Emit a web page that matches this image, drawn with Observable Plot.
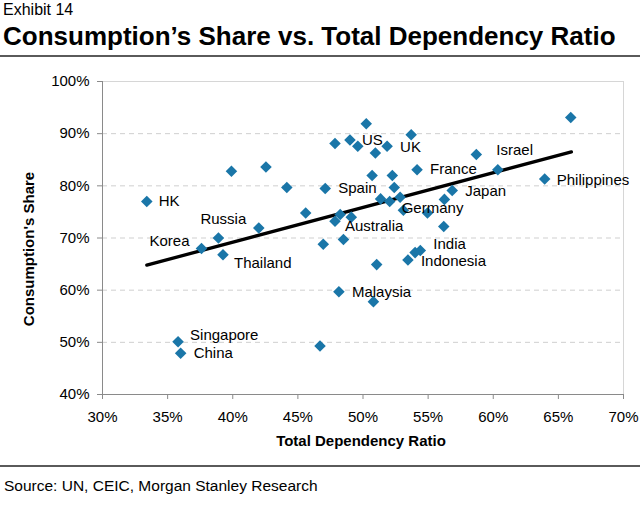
<!DOCTYPE html>
<html>
<head>
<meta charset="utf-8">
<script src="https://cdn.jsdelivr.net/npm/d3@7"></script>
<script src="https://cdn.jsdelivr.net/npm/@observablehq/plot@0.6"></script>
<style>
  html, body { margin: 0; padding: 0; background: #fff; }
  body { width: 640px; height: 508px; position: relative; overflow: hidden; font-family: "Liberation Sans", Arial, sans-serif; color: #000; }
  .abs { position: absolute; left: 0; white-space: nowrap; line-height: 1; }
  #exhibit { top: 1.5px; left: 3px; font-size: 16px; }
  #title { top: 23px; left: 3px; font-size: 26px; font-weight: bold; }
  #rule1 { top: 54.5px; width: 640px; height: 2.5px; background: #5a5a5a; }
  #chart { top: 60px; }
  #rule2 { top: 465px; width: 640px; height: 1.5px; background: #5a5a5a; }
  #source { top: 478px; left: 4px; font-size: 15.5px; }
</style>
</head>
<body>
<div id="exhibit" class="abs">Exhibit 14</div>
<div id="title" class="abs">Consumption’s Share vs. Total Dependency Ratio</div>
<div id="rule1" class="abs"></div>
<div id="chart" class="abs"></div>
<div id="rule2" class="abs"></div>
<div id="source" class="abs">Source: UN, CEIC, Morgan Stanley Research</div>
<script>
// Data (values in %)
const countries = ["HK","Korea","Russia","Thailand",null,null,null,null,null,"Spain",
  null,null,null,"Australia",null,"Malaysia",null,"US",null,null,
  null,null,null,null,null,null,"UK","Germany",null,null,
  null,null,"Indonesia",null,null,"France","India",null,null,null,
  "Japan","Israel",null,"Philippines",null,"Singapore","China"];
const dependencyRatio = [33.4,37.6,38.9,39.25,39.9,42.0,42.55,44.15,45.6,47.1,
  46.95,46.7,47.85,47.85,48.25,48.15,48.5,49.0,49.1,49.6,
  50.25,50.7,50.95,50.8,51.05,51.35,51.85,52.05,52.25,52.4,
  52.85,53.1,53.45,53.7,54.0,54.15,54.4,54.95,56.2,56.25,
  56.85,58.7,60.35,63.95,65.95,35.8,36.0];
const consumptionShare = [77.0,68.0,70.0,66.8,82.8,71.9,83.6,79.7,74.8,79.5,
  68.8,49.3,88.1,73.2,74.5,59.7,69.7,88.8,74.0,87.6,
  91.9,82.0,86.3,57.8,64.9,77.5,87.6,77.0,82.0,79.7,
  77.8,75.3,65.8,89.8,67.2,83.1,67.6,74.8,72.2,77.4,
  79.1,86.0,83.1,81.3,93.1,50.1,47.9];
const trendX = [33.4, 66.0];
const trendY = [64.8, 86.5];
const xTicks = [30,35,40,45,50,55,60,65,70];
const yTicks = [40,50,60,70,80,90,100];

// Label placement (style only)
const labelStyle = {
  HK: ["start", 12, 0], Korea: ["end", -12, -7], Russia: ["start", -18, -19],
  Thailand: ["start", 11, 8], Spain: ["start", 13, 0], Australia: ["start", 10, 5],
  Malaysia: ["start", 13, 0], US: ["start", 12, 0], UK: ["start", 13, 1],
  Germany: ["start", 12, 7], Indonesia: ["start", 13, 1], France: ["start", 13, 0],
  India: ["start", 13, -6], Japan: ["start", 13, 1], Israel: ["start", 20, -4],
  Philippines: ["start", 12, 1], Singapore: ["start", 12, -7], China: ["start", 13, 0]
};

const points = countries.map((c, i) => ({name: c, x: dependencyRatio[i], y: consumptionShare[i]}));
const trend = trendX.map((x, i) => ({x, y: trendY[i]}));
const pct = d => d + "%";

const labelMarks = points.filter(d => d.name).map(d => {
  const [anchor, dx, dy] = labelStyle[d.name];
  return Plot.text([d], {x: "x", y: "y", text: "name", textAnchor: anchor, dx, dy,
    fontSize: 15, fill: "#000", lineAnchor: "middle"});
});

const chart = Plot.plot({
  width: 640,
  height: 400,
  marginTop: 21,
  marginLeft: 102,
  marginRight: 17,
  marginBottom: 66,
  x: {domain: [30, 70]},
  y: {domain: [40, 100]},
  style: {fontFamily: "'Liberation Sans', Arial, sans-serif", fontSize: "15px", color: "#000", background: "#fff", overflow: "visible"},
  marks: [
    Plot.gridY(yTicks.filter(v => v > 40 && v < 100), {stroke: "#cfcfcf", strokeOpacity: 1, strokeDasharray: "5,4"}),
    Plot.ruleY([100], {stroke: "#d6d6d6"}),
    Plot.ruleX([70], {stroke: "#d6d6d6"}),
    Plot.axisY(yTicks, {tickFormat: pct, tickSize: 5, tickPadding: 8, stroke: "#8a8a8a", fill: "#000", fontSize: 15, label: null}),
    Plot.axisX(xTicks, {tickFormat: pct, tickSize: 5, tickPadding: 12, stroke: "#8a8a8a", fill: "#000", fontSize: 15, label: null}),
    Plot.ruleX([30], {stroke: "#8a8a8a"}),
    Plot.ruleY([40], {stroke: "#8a8a8a"}),
    Plot.line(trend, {x: "x", y: "y", stroke: "#000", strokeWidth: 3.3}),
    Plot.dot(points, {x: "x", y: "y", symbol: "diamond2", r: 5.2, fill: "#1a76a8", stroke: "none"}),
    ...labelMarks,
    Plot.text(["Total Dependency Ratio"], {frameAnchor: "bottom", dx: -2, dy: 47, lineAnchor: "middle", fontWeight: "bold", fontSize: 15, fill: "#000"}),
    Plot.text(["Consumption's Share"], {frameAnchor: "left", dx: -73, dy: 11, rotate: -90, lineAnchor: "middle", textAnchor: "middle", fontWeight: "bold", fontSize: 15, fill: "#000"})
  ]
});
document.getElementById("chart").appendChild(chart);
</script>
</body>
</html>
